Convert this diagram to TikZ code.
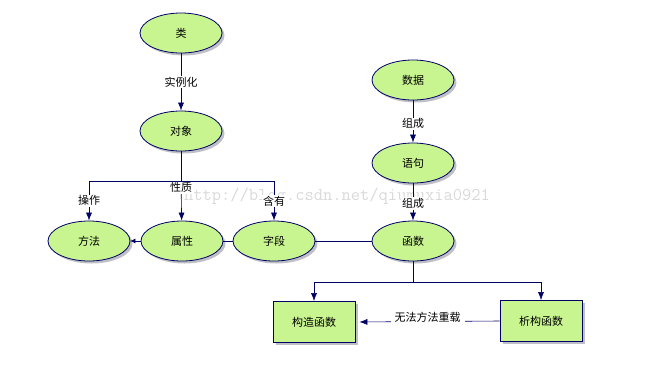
\documentclass[tikz,border=0pt]{standalone}
\usepackage{fontspec}
\newfontfamily\cjk{Noto Sans CJK SC}
\usepackage{xcolor}
\definecolor{nodegreen}{HTML}{C8F590}
\definecolor{edgenavy}{HTML}{000066}
\definecolor{shadowgray}{HTML}{80808F}
\usepackage{tikz}
\usetikzlibrary{shapes.geometric,arrows.meta,positioning,shadows}

\begin{document}
\begin{tikzpicture}[x=1pt,y=-1pt,
  concept/.style={ellipse,draw=edgenavy,fill=nodegreen,thick,
                  minimum width=82pt,minimum height=40pt,inner sep=0pt,
                  font=\cjk\fontsize{11}{13}\selectfont,
                  drop shadow={shadow xshift=2.5pt,shadow yshift=-2.5pt,fill=shadowgray}},
  member/.style={rectangle,draw=edgenavy,fill=nodegreen,thick,
                 minimum width=82pt,minimum height=41pt,inner sep=0pt,
                 font=\cjk\fontsize{11}{13}\selectfont,
                 drop shadow={shadow xshift=2.5pt,shadow yshift=-2.5pt,fill=shadowgray}},
  rel/.style={fill=white,inner sep=1pt,font=\cjk\fontsize{11}{13}\selectfont},
  link/.style={draw=edgenavy,semithick},
  arrow/.style={link,-{Latex[length=8pt,width=6pt]}},
  tinyarrow/.style={link,-{Latex[length=5pt,width=5pt]}}
]
\useasboundingbox (0,0) rectangle (658,373);

% watermark
\node[font=\ttfamily\fontsize{18}{20}\selectfont,text=gray!30] (mark) at (337,196) {http://blog.csdn.net/qiumuxia0921};

% class / object part
\node[concept] (lei)      at (181,33)  {类};
\node[concept] (duixiang) at (181,131) {对象};
\node[concept] (fangfa)   at (89,241)  {方法};
\node[concept] (shuxing)  at (182,241) {属性};
\node[concept] (ziduan)   at (274,241) {字段};

% data part
\node[concept] (shuju)  at (413,80)  {数据};
\node[concept] (yuju)   at (413,163) {语句};
\node[concept] (hanshu) at (413,241) {函数};
\node[member] (gouzao) at (314,322) {构造函数};
\node[member] (xigou)  at (541,321) {析构函数};

\coordinate (bar)  at (181,181);
\coordinate (fork) at (413,282);

\draw[arrow] (lei) -- node[rel]{实例化} (duixiang);
\draw[link] (duixiang) -- (bar);
\draw[arrow] (bar) -| node[rel,pos=0.75]{操作} (fangfa);
\draw[arrow] (bar) -- node[rel,pos=0.17]{性质} (shuxing);
\draw[arrow] (bar) -| node[rel,pos=0.75]{含有} (ziduan);
\draw[tinyarrow] (shuxing) -- (fangfa);
\draw[link] (shuxing) -- (ziduan);
\draw[link] (ziduan) -- (hanshu);

\draw[arrow] (shuju) -- node[rel,pos=0.55]{组成} (yuju);
\draw[arrow] (yuju) -- node[rel,pos=0.54]{组成} (hanshu);
\draw[link] (hanshu) -- (fork);
\draw[arrow] (fork) -| (gouzao);
\draw[arrow] (fork) -| (xigou);
\draw[arrow,shorten >=4pt] (xigou.west) -- node[rel,pos=0.5,yshift=4pt,inner xsep=4pt,inner ysep=6pt]{无法方法重载} (gouzao.east);
\end{tikzpicture}
\end{document}
